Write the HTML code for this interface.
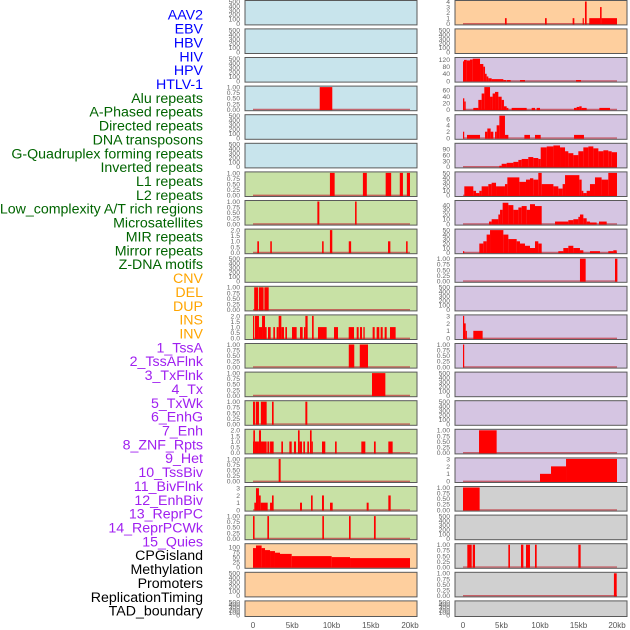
<!DOCTYPE html>
<html><head><meta charset="utf-8">
<style>
html,body{margin:0;padding:0;background:#fff;}
svg{display:block;}
</style></head>
<body>
<svg id="chart" width="630" height="630" viewBox="0 0 630 630" xmlns="http://www.w3.org/2000/svg" font-family="Liberation Sans, sans-serif"></svg>
<script>
const trackNames = ["AAV2","EBV","HBV","HIV","HPV","HTLV-1","Alu repeats","A-Phased repeats","Directed repeats","DNA transposons","G-Quadruplex forming repeats","Inverted repeats","L1 repeats","L2 repeats","Low_complexity A/T rich regions","Microsatellites","MIR repeats","Mirror repeats","Z-DNA motifs","CNV","DEL","DUP","INS","INV","1_TssA","2_TssAFlnk","3_TxFlnk","4_Tx","5_TxWk","6_EnhG","7_Enh","8_ZNF_Rpts","9_Het","10_TssBiv","11_BivFlnk","12_EnhBiv","13_ReprPC","14_ReprPCWk","15_Quies","CPGisland","Methylation","Promoters","ReplicationTiming","TAD_boundary"];
const trackGroups = ["virus","virus","virus","virus","virus","virus","repeat","repeat","repeat","repeat","repeat","repeat","repeat","repeat","repeat","repeat","repeat","repeat","repeat","sv","sv","sv","sv","sv","chrom","chrom","chrom","chrom","chrom","chrom","chrom","chrom","chrom","chrom","chrom","chrom","chrom","chrom","chrom","other","other","other","other","other"];
const trackMax = [500,500,500,1,500,500,1,1,2,500,1,2,1,1,1,2,1,3.1,1,112,500,500,4,500,126,70,7,116,50,47.7,50,1,500,3,1,500,500,1,3,1,500,1,1,500];
const tickSets = {
  e:["0","100","200","300","400","500"], b:["0.00","0.25","0.50","0.75","1.00"], t:["0.0","0.5","1.0","1.5","2.0"],
  three:["0","1","2","3"], four:["0","1","2","3","4"], c120:["0","40","80","120"], c60:["0","20","40","60"],
  c6:["0","2","4","6"], c90:["0","30","60","90"], c50:["0","10","20","30","40","50"], c40:["0","10","20","30","40"], c100:["0","25","50","75","100"]
};
const trackTickKey = ["e","e","e","b","e","e","b","b","t","e","b","t","b","b","b","t","b","three","b","c100","e","e","four","e","c120","c60","c6","c90","c50","c40","c50","b","e","three","b","e","e","b","three","b","e","b","b","e"];
const trackSegments = [
 [],[],[],
 [[8.5,10.1,1]],
 [],[],
 [[9.8,10.4,1],[14.0,14.5,1],[16.9,17.6,1],[18.7,19.1,1],[19.6,20.0,1]],
 [[8.2,8.45,1],[13.0,13.2,1]],
 [[0.55,0.76,1],[2.2,2.4,1],[8.8,9.0,1],[9.8,10.1,2],[12.2,12.5,1],[17.2,17.5,1],[19.5,19.7,1]],
 [],
 [[0.15,0.65,1],[0.75,1.35,1],[1.45,2.0,1]],
 [[0,0.13,2],[0.25,0.76,2],[0.76,1.15,1],[1.15,1.53,2],[1.53,1.74,1],[1.91,2.25,1],[2.59,2.8,1],[3.01,3.27,1],[3.27,3.61,2],[3.61,3.95,1],[4.12,4.33,1],[4.97,5.56,1],[5.99,6.33,1],[6.5,6.67,1],[6.67,6.96,2],[7.52,7.73,2],[8.28,9.38,1],[10.32,10.83,1],[12.19,12.87,1],[13.21,13.46,1],[13.63,13.89,1],[14.06,14.23,1],[15.24,15.5,1],[15.75,16.09,1],[16.26,16.52,1],[16.77,17.03,1],[17.45,18.17,1]],
 [[12.2,12.9,1],[13.6,14.65,1]],
 [[15.16,16.86,1]],
 [[0,0.25,1],[0.35,0.76,1],[1.0,1.74,1],[2.42,2.63,1],[6.67,6.92,1]],
 [[0,0.04,1],[0.04,0.25,2],[0.25,0.76,1],[0.76,1.02,2],[1.02,1.74,1],[1.83,2.08,1],[2.17,2.63,1],[3.61,3.82,1],[4.63,4.93,1],[5.22,5.48,1],[5.73,5.94,2],[5.94,6.24,1],[6.41,6.62,1],[6.92,7.13,1],[7.26,7.47,2],[7.47,7.6,1],[8.79,9.21,1],[10.45,10.66,1],[13.8,14.31,1],[15.41,15.63,1],[17.24,17.79,1]],
 [[3.27,3.52,1]],
 [[0.17,0.38,1],[0.38,0.76,3],[0.76,0.98,2],[0.98,1.87,1],[2.17,2.42,1],[2.42,2.63,2],[5.99,6.24,1],[7.39,7.6,2],[8.79,9.04,2],[9.81,10.15,1],[14.48,14.73,1],[17.24,17.54,2]],
 [[0,0.2,1],[1.83,2.04,1],[8.83,9.04,1],[12.23,12.44,1],[15.41,15.63,1]],
 [[0,0.38,95],[0.38,1.1,108],[1.1,1.53,95],[1.53,2.17,85],[2.17,2.8,80],[2.8,3.44,72],[3.44,4.93,66],[4.93,10.02,55],[10.02,12.36,50],[12.36,20,45]],
 [],[],
 [[5.45,5.67,1],[10.65,10.87,1],[14.24,14.46,1],[15.54,15.67,1],[15.84,16.06,4],[16.4,17.8,1],[17.8,18.0,3],[18.0,20,1]],
 [],
 [[0,0.13,110],[0.13,0.48,118],[0.48,0.91,115],[0.91,1.26,120],[1.26,2.21,125],[2.21,2.64,95],[2.64,2.86,80],[2.86,3.07,40],[3.07,3.29,25],[3.29,3.72,15],[3.72,5.24,10],[5.24,5.58,5],[5.67,6.19,5],[7.4,8.05,5],[14.68,15.32,5]],
 [[0,0.17,35],[0.17,0.35,25],[1.34,1.99,5],[1.99,2.42,30],[2.42,2.77,50],[2.77,3.51,70],[3.51,3.85,40],[3.85,4.16,50],[4.16,4.59,55],[4.59,5.02,40],[5.02,5.32,30],[5.32,5.67,10],[5.67,5.89,5],[6.32,8.27,5],[8.92,9.35,5],[9.57,10.0,5],[14.42,14.76,5],[14.76,15.11,8],[15.11,15.41,10],[15.41,16.06,5],[17.71,19.09,5]],
 [[0,0.09,2],[0.52,2.21,1],[2.86,3.16,2],[3.16,3.59,3],[3.59,3.94,2],[4.16,4.37,2],[4.37,4.72,4],[4.72,5.45,7],[5.45,5.89,1],[7.97,8.7,1],[9.35,10.09,1],[14.42,15.71,1]],
 [[4.72,5.02,5],[5.02,5.67,15],[5.67,6.54,20],[6.54,7.19,25],[7.19,7.62,35],[7.62,8.48,40],[8.48,9.13,50],[9.13,9.78,45],[9.78,10.09,40],[10.09,10.87,100],[10.87,11.74,105],[11.74,12.6,110],[12.6,13.25,100],[13.25,13.68,80],[13.68,14.33,70],[14.33,14.98,60],[14.98,15.63,80],[15.63,16.28,100],[16.28,16.93,105],[16.93,17.58,95],[17.58,18.23,80],[18.23,18.87,85],[18.87,19.31,80],[19.31,20,75]],
 [[0.17,1.34,20],[1.34,1.69,10],[1.69,2.12,5],[2.12,2.42,10],[2.42,3.29,20],[3.29,3.72,25],[3.72,4.29,28],[4.29,5.45,20],[5.45,5.76,25],[5.76,7.32,40],[7.32,8.18,30],[8.18,8.7,35],[8.7,9.13,38],[9.13,9.78,35],[9.78,10.22,50],[10.22,11.74,25],[11.74,12.38,20],[12.38,12.94,15],[12.94,13.25,25],[13.25,15.11,45],[15.11,15.41,35],[15.41,15.63,10],[15.63,16.06,5],[16.06,16.49,10],[16.49,17.14,25],[17.14,18.0,40],[18.0,18.87,35],[18.87,20,50]],
 [[3.38,3.72,5],[3.72,4.59,10],[4.59,4.81,20],[4.81,5.15,30],[5.15,5.89,45],[5.89,6.54,40],[6.54,7.19,30],[7.19,7.62,35],[7.62,8.27,38],[8.27,8.7,30],[8.7,9.35,42],[9.35,10.22,38],[11.95,13.68,5],[13.68,14.33,8],[14.33,14.98,10],[14.98,15.19,15],[15.19,15.63,20],[15.63,16.06,12],[16.06,16.49,5],[16.49,17.36,3],[17.66,18.66,5]],
 [[0,0.09,3],[2.12,2.64,20],[2.64,3.07,25],[3.07,3.51,40],[3.51,5.24,50],[5.24,5.89,40],[5.89,6.97,30],[6.97,7.4,25],[7.4,8.05,20],[8.05,8.7,15],[8.7,9.35,10],[9.35,9.78,25],[9.78,10.22,20],[12.38,13.03,3],[13.03,13.68,10],[13.68,14.33,15],[14.33,15.19,10],[15.19,15.63,5],[16.49,17.79,3],[18.87,19.52,3],[19.52,19.96,5]],
 [[15.19,15.93,1],[19.74,20.05,1]],
 [],
 [[0,0.13,3],[0.13,0.35,2],[0.35,0.48,1],[1.34,2.55,1]],
 [[0,0.15,1]],
 [],[],
 [[2.08,4.37,1]],
 [[10.0,11.43,1],[11.43,13.38,2],[13.38,20,3]],
 [[0,2.16,1]],
 [],
 [[0.56,1.13,1],[1.26,1.56,1],[5.89,6.1,1],[7.53,7.84,1],[8.18,8.7,1],[9.35,9.57,1],[14.98,15.28,1]],
 [[19.6,19.96,1]],
 []
];
const xTickValues = [0,5,10,15,20];
const xTickLabels = ["0","5kb","10kb","15kb","20kb"];

const NS = "http://www.w3.org/2000/svg";
const svg = document.getElementById("chart");
function mk(tag, attrs, parent){
  const el = document.createElementNS(NS, tag);
  for (const k in attrs) el.setAttribute(k, attrs[k]);
  (parent||svg).appendChild(el);
  return el;
}
const groupBg = {virus:"#c8e4ec", repeat:"#c8e1a5", sv:"#fecf9e", chrom:"#d5c5e2", other:"#d0d0d0"};
const labelColor = {virus:"#0000ff", repeat:"#006400", sv:"#ffa500", chrom:"#a020f0", other:"#000000"};
const cols = [
  {left:245, right:417, x0:253, x1:410, tickX:240},
  {left:455, right:627, x0:463, x1:617, tickX:450}
];
function xScale(col, kb){ return col.x0 + (col.x1-col.x0)*kb/20; }
function rowTop(r){ return r===0 ? 0.5 : 0.3 + r*28.6; }
function rowBottom(r){ return r===21 ? 616.5 : 0.3 + r*28.6 + 24.6; }

const labelsG = mk("g", {});


trackNames.forEach((name, i) => {
  const t = mk("text", {x:203, y:19.7 + i*13.86, "text-anchor":"end", "font-size":"14.2", fill:labelColor[trackGroups[i]]}, labelsG);
  
  
  t.textContent = name;
});

trackNames.forEach((name, i) => {
  const col = cols[i < 22 ? 0 : 1];
  const r = i % 22;
  const top = rowTop(r), bot = rowBottom(r);
  const h = bot - top;
  const ymax = trackMax[i];
  const yScale = v => (bot - 1.2) - (Math.min(v, ymax)/ymax) * (h - 2.2);
  const g = mk("g", {});
  
  
  const bg = mk("rect", {x:col.left, y:top, width:col.right-col.left, height:h, fill:groupBg[trackGroups[i]]}, g);
  
  
  if (trackSegments[i].length) {
    const bl = mk("line", {x1:xScale(col,0), x2:xScale(col,20), y1:yScale(0), y2:yScale(0), stroke:"#c0303a", "stroke-opacity":"0.7", "stroke-width":"1.4"}, g);
    
    
  }
  trackSegments[i].forEach(s => {
    const x = xScale(col, s[0]), w = Math.max(1.2, xScale(col, s[1]) - x);
    const y = yScale(s[2]);
    const b = mk("rect", {x:x, y:y, width:w, height:yScale(0)-y+0.7, fill:"#ff0000"}, g);
    
    
  });
  const border = mk("rect", {x:col.left, y:top, width:col.right-col.left, height:h, fill:"none", stroke:"#5a5a5a", "stroke-width":"1"}, g);
  
  
  const ticks = tickSets[trackTickKey[i]];
  ticks.forEach(lbl => {
    const v = parseFloat(lbl);
    const ty = yScale(v);
    if (ty < -2) return;
    const t = mk("text", {x:col.tickX, y:ty + 2.4, "text-anchor":"end", "font-size":"6.8", fill:"#666"});
    
    
    t.textContent = lbl;
  });
});

cols.forEach(col => {
  xTickValues.forEach((v, k) => {
    const t = mk("text", {x:xScale(col, v), y:628, "text-anchor":"middle", "font-size":"8", fill:"#555"});
    
    
    t.textContent = xTickLabels[k];
  });
});
</script>
</body></html>
